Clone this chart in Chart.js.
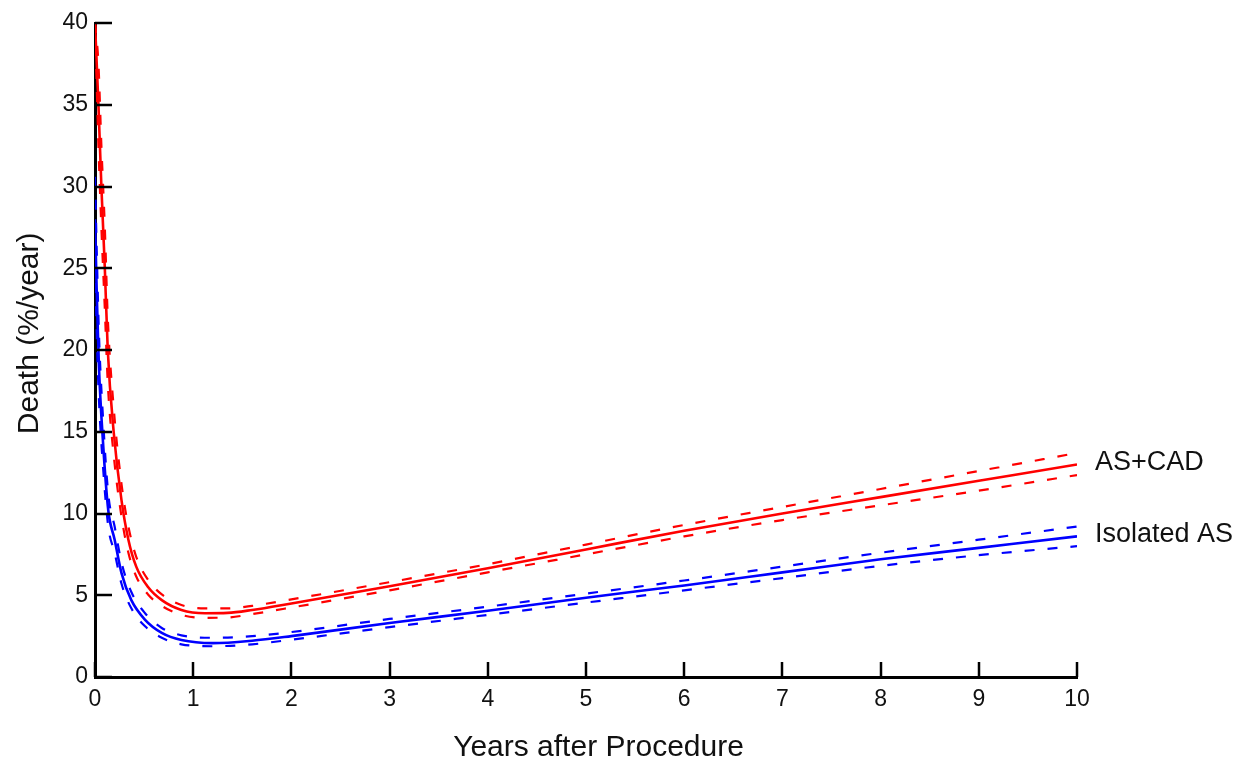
<!DOCTYPE html>
<html>
<head>
<meta charset="utf-8">
<script src="https://cdn.jsdelivr.net/npm/chart.js@4/dist/chart.umd.min.js"></script>
<style>
  html, body { margin: 0; padding: 0; background: #fff; }
  #wrap { width: 1243px; height: 771px; }
</style>
</head>
<body>
<div id="wrap"><canvas id="chart"></canvas></div>
<script>
// Data (years after procedure -> death %/year)
const redYears = [0, 0.035, 0.065, 0.1, 0.13, 0.19, 0.27, 0.34, 0.42, 0.54, 0.68, 0.88, 1.12, 1.35, 1.6, 2, 3, 4, 5, 6, 7, 8, 9, 10];
const redMean  = [40, 35, 30, 25, 20, 15, 10.8, 8.4, 6.75, 5.5, 4.7, 4.1, 3.9, 3.92, 4.1, 4.5, 5.55, 6.65, 7.8, 8.95, 10.0, 11.0, 12.0, 13.0];
const redUpper = [40, 37.5, 32.5, 27.5, 22, 16.5, 11.8, 9.2, 7.35, 5.95, 5.05, 4.4, 4.2, 4.2, 4.35, 4.75, 5.8, 6.9, 8.1, 9.3, 10.4, 11.5, 12.6, 13.7];
const redLower = [40, 32.5, 27.5, 22.5, 18, 13.6, 9.8, 7.6, 6.15, 5.05, 4.35, 3.8, 3.62, 3.64, 3.85, 4.25, 5.3, 6.4, 7.5, 8.6, 9.6, 10.5, 11.4, 12.35];

const blueYears = [0, 0.02, 0.04, 0.08, 0.135, 0.2, 0.27, 0.37, 0.51, 0.68, 0.88, 1.2, 1.6, 2, 3, 4, 5, 6, 7, 8, 9, 10];
const blueMean  = [28, 23, 19, 14.5, 10.2, 8.4, 6.35, 4.7, 3.5, 2.7, 2.26, 2.07, 2.22, 2.5, 3.3, 4.05, 4.85, 5.6, 6.4, 7.2, 7.9, 8.6];
const blueUpper = [30.6, 25.5, 21, 16, 11.2, 9.2, 7.0, 5.2, 3.9, 3.0, 2.55, 2.4, 2.5, 2.75, 3.55, 4.3, 5.1, 5.9, 6.75, 7.6, 8.4, 9.2];
const blueLower = [25.5, 20.5, 17, 13, 9.2, 7.6, 5.7, 4.2, 3.1, 2.4, 2.0, 1.88, 2.0, 2.28, 3.05, 3.8, 4.55, 5.3, 6.05, 6.8, 7.45, 8.0];

const seriesNames = ['AS+CAD', 'Isolated AS'];
const xTickValues = [0, 1, 2, 3, 4, 5, 6, 7, 8, 9, 10];
const yTickValues = [0, 5, 10, 15, 20, 25, 30, 35, 40];

const RED = '#ff0000';
const BLUE = '#0000ff';
const FONT = '"Liberation Sans", Arial, sans-serif';

function pts(xs, ys) {
  return xs.map((x, i) => ({ x: x, y: ys[i] }));
}

function line(label, xs, ys, color, dashed) {
  return {
    label: label,
    data: pts(xs, ys),
    borderColor: color,
    borderWidth: dashed ? 2.2 : 2.6,
    borderDash: dashed ? [10, 13] : [],
    pointRadius: 0,
    fill: false,
    cubicInterpolationMode: 'monotone',
  };
}

// inward tick marks + series labels at line ends
const decorations = {
  id: 'decorations',
  afterDraw(chart) {
    const ctx = chart.ctx;
    const xs = chart.scales.x;
    const ys = chart.scales.y;
    const area = chart.chartArea;
    ctx.save();
    ctx.strokeStyle = '#000';
    ctx.lineWidth = 2.5;
    xTickValues.forEach(v => {
      const px = Math.round(xs.getPixelForValue(v));
      ctx.beginPath();
      ctx.moveTo(px, area.bottom);
      ctx.lineTo(px, area.bottom - 15);
      ctx.stroke();
    });
    yTickValues.forEach(v => {
      const py = Math.round(ys.getPixelForValue(v));
      ctx.beginPath();
      ctx.moveTo(area.left, py);
      ctx.lineTo(area.left + 17, py);
      ctx.stroke();
    });

    ctx.fillStyle = '#111';
    ctx.font = '27px ' + FONT;
    ctx.textBaseline = 'middle';
    ctx.textAlign = 'left';
    const ends = [redMean[redMean.length - 1], blueMean[blueMean.length - 1]];
    ends.forEach((v, i) => {
      ctx.fillText(seriesNames[i], area.right + 18, ys.getPixelForValue(v) - 2);
    });
    ctx.restore();
  }
};

const ctx = document.getElementById('chart').getContext('2d');
const chart = new Chart(ctx, {
  type: 'line',
  data: {
    datasets: [
      line(seriesNames[0], redYears, redMean, RED, false),
      line(seriesNames[0] + ' upper', redYears, redUpper, RED, true),
      line(seriesNames[0] + ' lower', redYears, redLower, RED, true),
      line(seriesNames[1], blueYears, blueMean, BLUE, false),
      line(seriesNames[1] + ' upper', blueYears, blueUpper, BLUE, true),
      line(seriesNames[1] + ' lower', blueYears, blueLower, BLUE, true),
    ],
  },
  options: {
    responsive: true,
    maintainAspectRatio: false,
    animation: false,
    layout: { padding: { left: 0, right: 166, top: 23, bottom: 0 } },
    plugins: {
      legend: { display: false },
      tooltip: { enabled: false },
    },
    scales: {
      x: {
        type: 'linear',
        min: 0,
        max: 10,
        afterFit: s => { s.height = 94; },
        afterBuildTicks: s => { s.ticks = xTickValues.map(v => ({ value: v })); },
        grid: { display: false, drawTicks: false },
        border: { display: true, color: '#000', width: 3 },
        ticks: { color: '#111', font: { family: FONT, size: 23 }, padding: 9 },
        title: {
          display: true,
          text: '   Years after Procedure',
          color: '#111',
          font: { family: FONT, size: 30 },
          padding: { top: 0, bottom: 5 },
        },
      },
      y: {
        min: 0,
        max: 40,
        afterFit: s => { s.width = 95; },
        afterBuildTicks: s => { s.ticks = yTickValues.map(v => ({ value: v })); },
        grid: { display: false, drawTicks: false },
        border: { display: true, color: '#000', width: 3 },
        ticks: { color: '#111', font: { family: FONT, size: 23 }, padding: 7 },
        title: {
          display: true,
          text: '    Death (%/year)',
          color: '#111',
          font: { family: FONT, size: 30 },
          padding: { top: 12, bottom: 0 },
        },
      },
    },
  },
  plugins: [decorations],
});
</script>
</body>
</html>
